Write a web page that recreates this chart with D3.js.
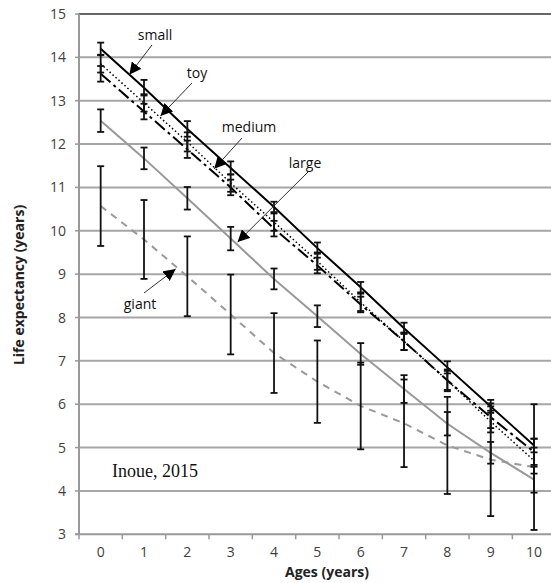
<!DOCTYPE html>
<html>
<head>
<meta charset="utf-8">
<script src="https://cdn.jsdelivr.net/npm/d3@7"></script>
<style>
  body { margin: 0; background: #fff; }
  text { font-family: "Open Sans", sans-serif; }
</style>
</head>
<body>
<div class="container"></div>
<script>
// ages on the x axis
const ages = [0, 1, 2, 3, 4, 5, 6, 7, 8, 9, 10];
const yTicks = [3, 4, 5, 6, 7, 8, 9, 10, 11, 12, 13, 14, 15];

// life expectancy per size group, and the half length of each error bar
const small = [14.2, 13.3, 12.35, 11.45, 10.55, 9.6, 8.7, 7.75, 6.85, 5.95, 5.05];
const smallErr = [0.14, 0.18, 0.18, 0.15, 0.12, 0.13, 0.12, 0.13, 0.14, 0.15, 0.16];
const toy = [13.85, 12.95, 12.05, 11.1, 10.2, 9.3, 8.35, 7.45, 6.55, 5.6, 4.7];
const toyErr = [0.2, 0.2, 0.22, 0.2, 0.2, 0.2, 0.2, 0.2, 0.25, 0.25, 0.3];
const medium = [13.62, 12.75, 11.88, 11.0, 10.05, 9.2, 8.3, 7.45, 6.55, 5.7, 4.9];
const mediumErr = [0.18, 0.18, 0.2, 0.18, 0.18, 0.18, 0.18, 0.2, 0.22, 0.25, 0.3];
const large = [12.54, 11.67, 10.75, 9.82, 8.89, 8.03, 7.16, 6.35, 5.55, 4.88, 4.26];
const largeErr = [0.26, 0.25, 0.26, 0.27, 0.24, 0.25, 0.25, 0.32, 0.27, 0.25, 0.3];
const giant = [10.57, 9.8, 8.95, 8.07, 7.18, 6.52, 5.96, 5.56, 5.05, 4.72, 4.55];
const giantErr = [0.92, 0.91, 0.92, 0.92, 0.92, 0.95, 1.0, 1.01, 1.12, 1.3, 1.45];

const series = [
  { name: "giant", values: giant, err: giantErr, color: "#999", width: 2, dash: "7,6" },
  { name: "large", values: large, err: largeErr, color: "#999", width: 2, dash: null },
  { name: "medium", values: medium, err: mediumErr, color: "#000", width: 2, dash: "13,4,3,4" },
  { name: "toy", values: toy, err: toyErr, color: "#000", width: 1.5, dash: "1.5,2.5" },
  { name: "small", values: small, err: smallErr, color: "#000", width: 2, dash: null }
];

const width = 551, height = 583;
const plotLeft = 79, plotTop = 14, plotRight = 555.7, plotBottom = 534.3;

const svg = d3.select(".container").append("svg")
  .attr("width", width)
  .attr("height", height);

const x = d3.scaleBand().domain(ages).range([plotLeft, plotRight]).padding(0);
const cx = (d) => x(d) + x.bandwidth() / 2;
const y = d3.scaleLinear().domain([3, 15]).range([plotBottom, plotTop]);

// horizontal gridlines
svg.append("g")
  .selectAll("line")
  .data(yTicks.filter((d) => d > 3))
  .enter()
  .append("line")
  .attr("x1", plotLeft)
  .attr("x2", width)
  .attr("y1", (d) => y(d))
  .attr("y2", (d) => y(d))
  .attr("stroke", (d) => d === 15 ? "#666" : "#a6a6a6")
  .attr("stroke-width", 2);

// axes lines
svg.append("line")
  .attr("x1", plotLeft).attr("x2", plotLeft)
  .attr("y1", y(15)).attr("y2", y(3))
  .attr("stroke", "#999").attr("stroke-width", 2);
svg.append("line")
  .attr("x1", plotLeft - 4).attr("x2", width)
  .attr("y1", y(3)).attr("y2", y(3))
  .attr("stroke", "#999").attr("stroke-width", 2);

// y ticks and labels
const yg = svg.append("g");
yg.selectAll("line")
  .data(yTicks)
  .enter()
  .append("line")
  .attr("x1", plotLeft - 4).attr("x2", plotLeft)
  .attr("y1", (d) => y(d)).attr("y2", (d) => y(d))
  .attr("stroke", "#999").attr("stroke-width", 1.5);
yg.selectAll("text")
  .data(yTicks)
  .enter()
  .append("text")
  .attr("x", plotLeft - 13)
  .attr("y", (d) => y(d) + 5)
  .attr("text-anchor", "end")
  .attr("font-size", 14)
  .attr("fill", "#404040")
  .text((d) => d);

// x ticks at band edges, labels at band centres
const xg = svg.append("g");
xg.selectAll("line")
  .data(ages.concat(["end"]))
  .enter()
  .append("line")
  .attr("x1", (d) => d === "end" ? plotRight : x(d))
  .attr("x2", (d) => d === "end" ? plotRight : x(d))
  .attr("y1", y(3)).attr("y2", y(3) + 5)
  .attr("stroke", "#999").attr("stroke-width", 1.5);
xg.selectAll("text")
  .data(ages)
  .enter()
  .append("text")
  .attr("x", (d) => cx(d))
  .attr("y", y(3) + 23)
  .attr("text-anchor", "middle")
  .attr("font-size", 14)
  .attr("fill", "#404040")
  .text((d) => d);

// axis titles
svg.append("text")
  .attr("transform", "translate(24," + 285 + ") rotate(-90)")
  .attr("text-anchor", "middle")
  .attr("font-size", 14)
  .attr("font-weight", "bold")
  .attr("fill", "#222")
  .text("Life expectancy (years)");
svg.append("text")
  .attr("x", 327)
  .attr("y", 577)
  .attr("text-anchor", "middle")
  .attr("font-size", 14)
  .attr("font-weight", "bold")
  .attr("fill", "#222")
  .text("Ages (years)");

// series lines
const line = d3.line()
  .x((d, i) => cx(ages[i]))
  .y((d) => y(d));

svg.append("g")
  .selectAll("path")
  .data(series)
  .enter()
  .append("path")
  .attr("d", (s) => line(s.values))
  .attr("fill", "none")
  .attr("stroke", (s) => s.color)
  .attr("stroke-width", (s) => s.width)
  .attr("stroke-dasharray", (s) => s.dash);

// error bars
const bars = [];
series.forEach((s) => {
  s.values.forEach((v, i) => bars.push({ age: ages[i], lo: v - s.err[i], hi: v + s.err[i] }));
});
const eb = svg.append("g").attr("stroke", "#111").attr("stroke-width", 1.8);
eb.selectAll("line.v")
  .data(bars)
  .enter()
  .append("line")
  .attr("class", "v")
  .attr("x1", (d) => cx(d.age)).attr("x2", (d) => cx(d.age))
  .attr("y1", (d) => y(d.hi)).attr("y2", (d) => y(d.lo));
eb.selectAll("line.hi")
  .data(bars)
  .enter()
  .append("line")
  .attr("class", "hi")
  .attr("x1", (d) => cx(d.age) - 3.5).attr("x2", (d) => cx(d.age) + 3.5)
  .attr("y1", (d) => y(d.hi)).attr("y2", (d) => y(d.hi));
eb.selectAll("line.lo")
  .data(bars)
  .enter()
  .append("line")
  .attr("class", "lo")
  .attr("x1", (d) => cx(d.age) - 3.5).attr("x2", (d) => cx(d.age) + 3.5)
  .attr("y1", (d) => y(d.lo)).attr("y2", (d) => y(d.lo));

// callout labels with arrows
svg.append("defs").append("marker")
  .attr("id", "arrow")
  .attr("viewBox", "0 0 10 10")
  .attr("refX", 10).attr("refY", 5)
  .attr("markerWidth", 12).attr("markerHeight", 12)
  .attr("markerUnits", "userSpaceOnUse")
  .attr("orient", "auto")
  .append("path")
  .attr("d", "M0,0 L10,5 L0,10 z")
  .attr("fill", "#000");

const callouts = [
  { name: "small", tx: 155, ty: 40, from: [152, 45], at: [0.66, 13.6] },
  { name: "toy", tx: 197, ty: 78, from: [192, 83], at: [1.38, 12.65] },
  { name: "medium", tx: 249, ty: 132, from: [242, 138], at: [2.62, 11.43] },
  { name: "large", tx: 305, ty: 168, from: [308, 172], at: [3.16, 9.74] },
  { name: "giant", tx: 140, ty: 309, from: [144, 293], at: [1.73, 9.12] }
];
const co = svg.append("g");
co.selectAll("line")
  .data(callouts)
  .enter()
  .append("line")
  .attr("x1", (d) => d.from[0]).attr("y1", (d) => d.from[1])
  .attr("x2", (d) => x(0) + x.bandwidth() / 2 + d.at[0] * x.bandwidth())
  .attr("y2", (d) => y(d.at[1]))
  .attr("stroke", "#333").attr("stroke-width", 1)
  .attr("marker-end", "url(#arrow)");
co.selectAll("text")
  .data(callouts)
  .enter()
  .append("text")
  .attr("x", (d) => d.tx).attr("y", (d) => d.ty)
  .attr("text-anchor", "middle")
  .attr("font-size", 14)
  .attr("fill", "#111")
  .text((d) => d.name);

svg.append("text")
  .attr("x", 112).attr("y", 477)
  .style("font-family", "'Liberation Serif', 'Times New Roman', serif")
  .attr("font-size", 18)
  .attr("fill", "#111")
  .text("Inoue, 2015");
</script>
</body>
</html>
